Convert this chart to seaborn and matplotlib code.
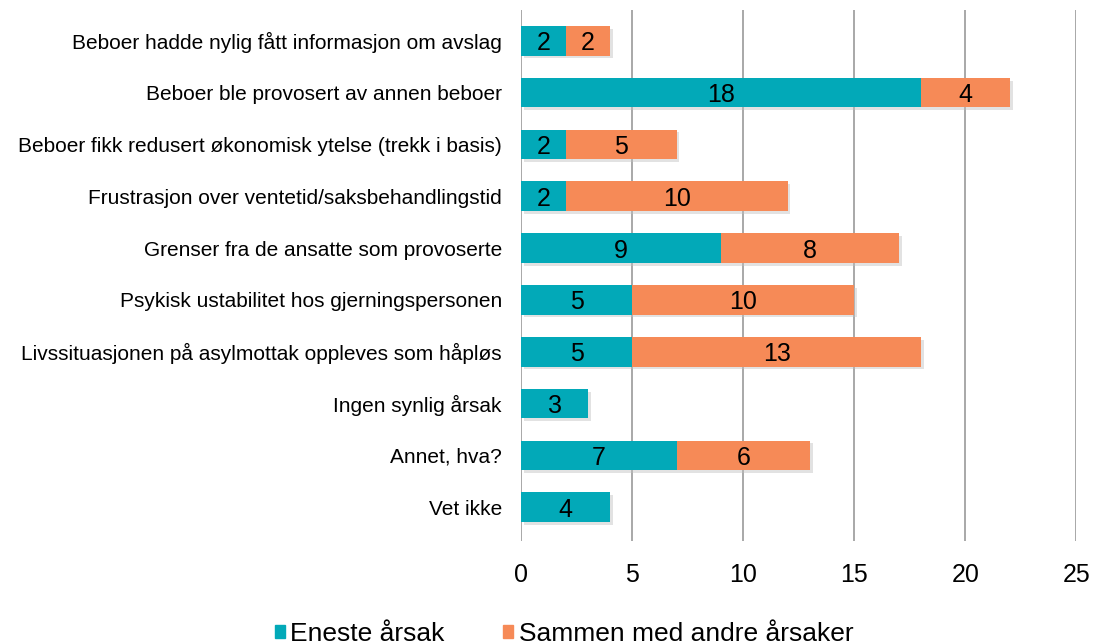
import numpy as np
import pandas as pd
import matplotlib
matplotlib.use("Agg")
import matplotlib.pyplot as plt
import matplotlib.patheffects as pe
from matplotlib.patches import Patch
import seaborn as sns

# Data
categories = [
    "Beboer hadde nylig fått informasjon om avslag",
    "Beboer ble provosert av annen beboer",
    "Beboer fikk redusert økonomisk ytelse (trekk i basis)",
    "Frustrasjon over ventetid/saksbehandlingstid",
    "Grenser fra de ansatte som provoserte",
    "Psykisk ustabilitet hos gjerningspersonen",
    "Livssituasjonen på asylmottak oppleves som håpløs",
    "Ingen synlig årsak",
    "Annet, hva?",
    "Vet ikke",
]
eneste = [2, 18, 2, 2, 9, 5, 5, 3, 7, 4]
sammen = [2, 4, 5, 10, 8, 10, 13, 0, 6, 0]
series_names = ["Eneste årsak", "Sammen med andre årsaker"]

TEAL = "#02A9B8"
ORANGE = "#F68A57"

df = pd.DataFrame({"kategori": categories, "eneste": eneste, "sammen": sammen})
df["total"] = df["eneste"] + df["sammen"]

sns.set_style("white")
plt.rcParams["font.family"] = ["Liberation Sans", "DejaVu Sans"]
plt.rcParams["text.color"] = "black"
plt.rcParams["xtick.color"] = "black"
plt.rcParams["ytick.color"] = "black"

fig = plt.figure(figsize=(10.95, 6.44), dpi=100)
ax = fig.add_axes([0.476, 0.16, 0.507, 0.825])

shadow = [pe.SimplePatchShadow(offset=(2, -2), shadow_rgbFace="0.75", alpha=0.45), pe.Normal()]

# stacked bars: total in orange underneath, "eneste" in teal on top
sns.barplot(data=df, y="kategori", x="total", color=ORANGE, orient="h",
            width=0.57, ax=ax, saturation=1, linewidth=0)
sns.barplot(data=df, y="kategori", x="eneste", color=TEAL, orient="h",
            width=0.57, ax=ax, saturation=1, linewidth=0)

for i, bar in enumerate(ax.patches):
    if i < len(categories):
        bar.set_path_effects(shadow)
    bar.set_zorder(3)

for i, (e, s) in enumerate(zip(eneste, sammen)):
    ax.text(e / 2, i, str(e), ha="center", va="center_baseline", fontsize=18, zorder=5)
    if s > 0:
        ax.text(e + s / 2, i, str(s), ha="center", va="center_baseline", fontsize=18, zorder=5)

ax.set_xlim(0, 25)
ax.set_ylim(len(categories) - 0.5 + 0.15, -0.5 - 0.1)
ax.set_xticks(range(0, 26, 5))
ax.xaxis.grid(True, color="#999999", linewidth=1.2, zorder=0)
ax.set_axisbelow(True)
for sp in ax.spines.values():
    sp.set_visible(False)
ax.set_xlabel("")
ax.set_ylabel("")
ax.tick_params(axis="x", labelsize=18, length=0, pad=16)
ax.tick_params(axis="y", labelsize=15, length=0, pad=14)

handles = [Patch(color=TEAL), Patch(color=ORANGE)]
fig.legend(handles, series_names, loc="lower center", ncol=2, frameon=False,
           fontsize=19, handlelength=0.4, handleheight=0.4, handletextpad=0.2,
           columnspacing=2.2, bbox_to_anchor=(0.515, -0.04))

fig.savefig("out.png", dpi=100)
